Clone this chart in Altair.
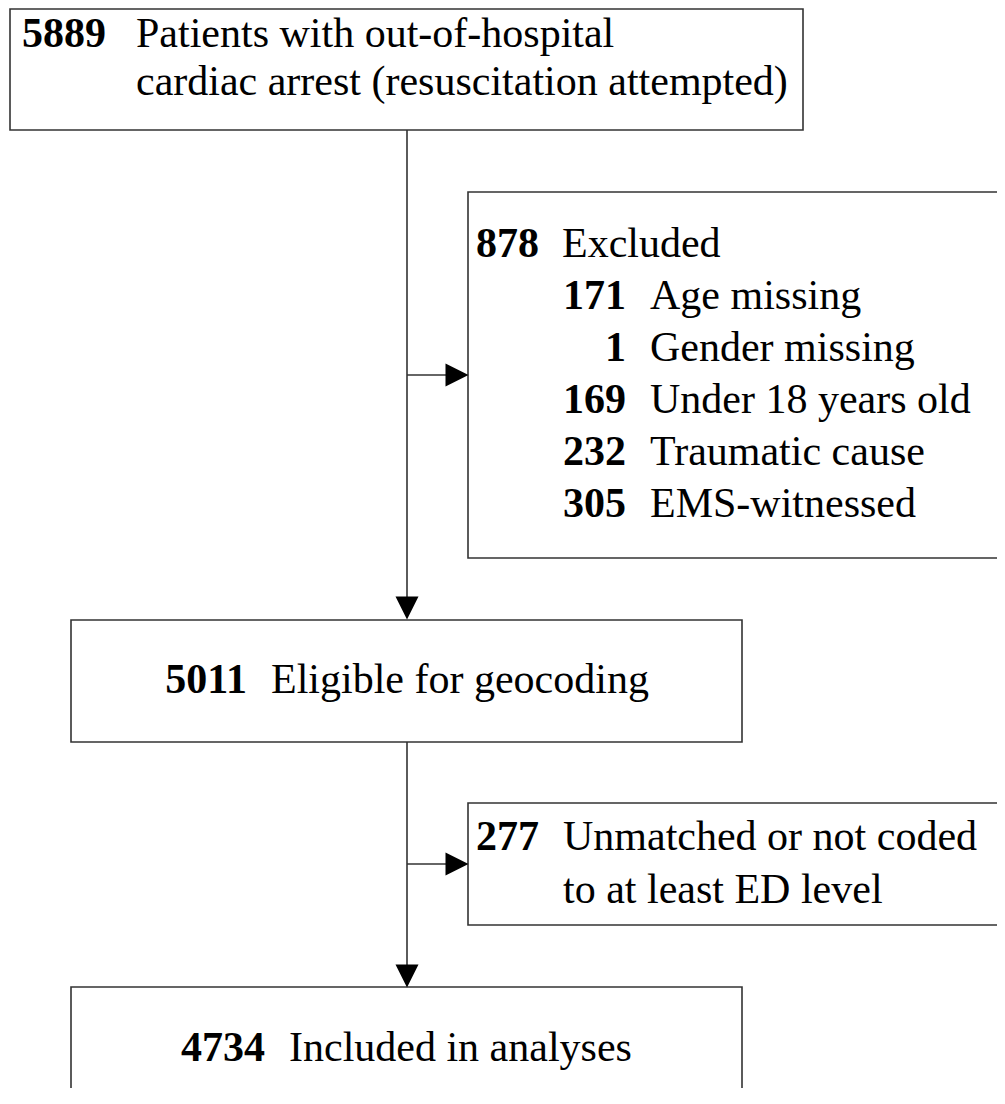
import altair as alt
import pandas as pd

# Flowchart content
numbers = ["5889", "878", "171", "1", "169", "232", "305", "5011", "277", "4734"]
num_x = [106, 539, 626, 626, 626, 626, 626, 247, 539, 265]
num_y = [47, 257, 309, 361, 413, 465, 517, 693, 850, 1061]

labels = [
    "Patients with out-of-hospital",
    "cardiac arrest (resuscitation attempted)",
    "Excluded",
    "Age missing",
    "Gender missing",
    "Under 18 years old",
    "Traumatic cause",
    "EMS-witnessed",
    "Eligible for geocoding",
    "Unmatched or not coded",
    "to at least ED level",
    "Included in analyses",
]
lab_x = [136, 136, 562, 650, 650, 650, 650, 650, 271, 563, 563, 289]
lab_y = [47, 95, 257, 309, 361, 413, 465, 517, 693, 850, 903, 1061]

# Boxes
box_x = [10, 468, 71, 468, 71]
box_x2 = [803, 1020, 742, 1020, 742]
box_y = [9, 192, 620, 803, 987]
box_y2 = [130, 558, 742, 925, 1120]

# Connector segments
seg_x = [407, 407, 407, 407]
seg_x2 = [407, 407, 457, 457]
seg_y = [130, 742, 375, 864]
seg_y2 = [608, 976, 375, 864]

# Arrow heads
arr_x = [407, 407, 457, 457]
arr_y = [608, 976, 375, 864]
arr_dir = ["down", "down", "right", "right"]

X0, X1 = 8, 997
Y0, Y1 = 8, 1088
W, H = X1 - X0, Y1 - Y0

xs = alt.Scale(domain=[X0, X1], nice=False, zero=False)
ys = alt.Scale(domain=[Y0, Y1], nice=False, zero=False, reverse=True)

FONT = "Liberation Serif"
FS = 42
STROKE = "#333333"

boxes = pd.DataFrame({"x": box_x, "x2": box_x2, "y": box_y, "y2": box_y2})
segs = pd.DataFrame({"x": seg_x, "x2": seg_x2, "y": seg_y, "y2": seg_y2})
arrows = pd.DataFrame({"x": arr_x, "y": arr_y, "dir": arr_dir})
nums = pd.DataFrame({"t": numbers, "x": num_x, "y": num_y})
labs = pd.DataFrame({"t": labels, "x": lab_x, "y": lab_y})

box_layer = alt.Chart(boxes).mark_rect(
    fill="white", stroke=STROKE, strokeWidth=1.6, clip=True
).encode(
    x=alt.X("x:Q", scale=xs, axis=None),
    x2="x2:Q",
    y=alt.Y("y:Q", scale=ys, axis=None),
    y2="y2:Q",
)

seg_layer = alt.Chart(segs).mark_rule(color=STROKE, strokeWidth=1.6).encode(
    x=alt.X("x:Q", scale=xs, axis=None),
    x2="x2:Q",
    y=alt.Y("y:Q", scale=ys, axis=None),
    y2="y2:Q",
)

down_layer = alt.Chart(arrows).transform_filter(alt.datum.dir == "down").mark_point(
    shape="M-1,-1L1,-1L0,1Z", filled=True, fill="black", stroke=None, size=529, opacity=1
).encode(
    x=alt.X("x:Q", scale=xs, axis=None),
    y=alt.Y("y:Q", scale=ys, axis=None),
)

right_layer = alt.Chart(arrows).transform_filter(alt.datum.dir == "right").mark_point(
    shape="M-1,-1L1,0L-1,1Z", filled=True, fill="black", size=529, opacity=1
).encode(
    x=alt.X("x:Q", scale=xs, axis=None),
    y=alt.Y("y:Q", scale=ys, axis=None),
)

num_layer = alt.Chart(nums).mark_text(
    font=FONT, fontSize=FS, fontWeight="bold", align="right", baseline="alphabetic", color="black"
).encode(
    x=alt.X("x:Q", scale=xs, axis=None),
    y=alt.Y("y:Q", scale=ys, axis=None),
    text="t:N",
)

lab_layer = alt.Chart(labs).mark_text(
    font=FONT, fontSize=FS, align="left", baseline="alphabetic", color="black"
).encode(
    x=alt.X("x:Q", scale=xs, axis=None),
    y=alt.Y("y:Q", scale=ys, axis=None),
    text="t:N",
)

chart = alt.layer(
    box_layer, seg_layer, down_layer, right_layer, num_layer, lab_layer
).properties(
    width=W, height=H, padding=0, autosize=alt.AutoSizeParams(type="none")
).configure_view(stroke=None)

chart.save("out.html", embed_options={"renderer": "svg", "actions": False})
